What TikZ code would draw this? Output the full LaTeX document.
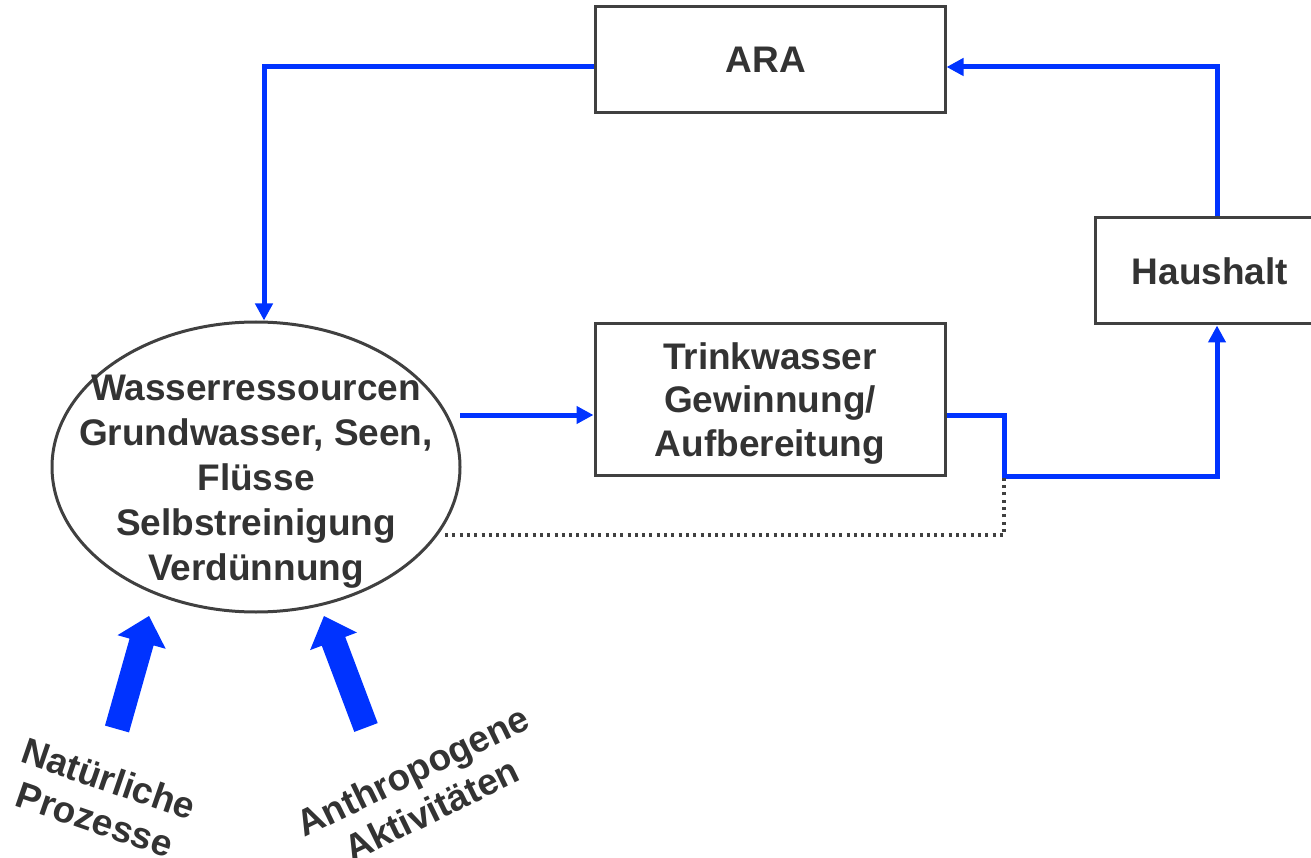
\documentclass[tikz,border=0pt]{standalone}
\usepackage{fontspec}
\setmainfont{Liberation Sans}
\usetikzlibrary{arrows.meta,shapes.geometric}
\definecolor{flowblue}{RGB}{0,51,255}
\definecolor{edgegray}{RGB}{64,64,64}
\definecolor{txtgray}{RGB}{51,51,51}
\tikzset{
  box/.style={draw=edgegray, line width=3pt, fill=white, inner sep=0pt, text=txtgray,
    font=\bfseries\fontsize{37}{43.5}\selectfont, align=center},
  ellnode/.style={ellipse, draw=edgegray, line width=3pt, inner sep=0pt,
    minimum width=408pt, minimum height=290pt},
  elltext/.style={text=txtgray, font=\bfseries\fontsize{37}{45}\selectfont, align=center, inner sep=0pt},
  flow/.style={draw=flowblue, line width=5pt, -{Triangle[length=17pt,width=17pt]}},
  dotline/.style={draw=edgegray, line width=3.3pt, dash pattern=on 3pt off 4.3pt},
  bigarrow/.style={fill=flowblue, draw=none},
  sidelabel/.style={text=txtgray, font=\bfseries\fontsize{37}{43}\selectfont, align=center, inner sep=0pt}
}
\begin{document}
\begin{tikzpicture}[x=1pt,y=-1pt]
\useasboundingbox (0,0) rectangle (1311,858);
% nodes
\node[box, minimum width=350pt, minimum height=106pt] (ara) at (770,60) {\hspace*{-8pt}ARA};
\node[box, minimum width=350pt, minimum height=151pt] (trink) at (770,399.5) {\rule{0pt}{34.5pt}Trinkwasser\\Gewinnung/\\Aufbereitung};
\node[box, minimum width=230pt, minimum height=106pt] (haus) at (1210,271) {Haushalt};
\node[ellnode] (wr) at (256,467) {};
\node[elltext] (wrtext) at (256,482) {Wasserressourcen\\Grundwasser, Seen,\\Flüsse\\Selbstreinigung\\Verdünnung};
\node[sidelabel, rotate=-19] (nat) at (102,799) {Natürliche\\Prozesse};
\node[sidelabel, rotate=26] (anth) at (422,790) {Anthropogene\\Aktivitäten};
% helper coordinates
\coordinate (c1) at (264,67);
\coordinate (c2) at (1217,67);
\coordinate (c3) at (1004,415);
\coordinate (c4) at (1004,476);
\coordinate (c5) at (460,415);
\coordinate (c6) at (445,535);
% connectors
\draw[flow] (c1 -| ara.west) -- (c1) -- (c1 |- wr.north);
\draw[flow] (c2 |- haus.north) -- (c2) -- (c2 -| ara.east);
\draw[flow] (c5) -- (c5 -| trink.west);
\draw[flow] (c3 -| trink.east) -- (c3) -- (c4) -- (c4 -| c2) -- (c2 |- haus.south);
\draw[dotline] (c6) -- (c6 -| c4) -- (c4);
% big arrows
\fill[bigarrow] (105,725.6) -- (129,732.4) -- (153.6,645.4) -- (165.7,648.8) -- (149,616)
  -- (117.5,635.2) -- (129.6,638.6) -- cycle;
\fill[bigarrow] (354.3,731.9) -- (377.7,723.1) -- (345.2,636.9) -- (356.9,632.5) -- (324,616)
  -- (310.1,650.1) -- (321.8,645.7) -- cycle;
\end{tikzpicture}
\end{document}
